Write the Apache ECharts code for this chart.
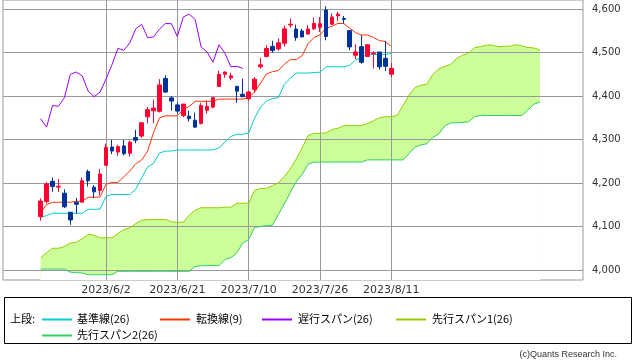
<!DOCTYPE html>
<html><head><meta charset="utf-8">
<script src="https://cdn.jsdelivr.net/npm/echarts@6/dist/echarts.min.js"></script>
<style>html,body{margin:0;padding:0;background:#fff}#c{width:638px;height:362px}</style>
</head><body><div id="c"></div>
<script>
// x positions are candle indices (0 = 2023/5/17)
const tickIndex = [11, 23, 35, 47, 59];
const tickLabels = ['2023/6/2', '2023/6/21', '2023/7/10', '2023/7/26', '2023/8/11'];
const yTicks = [4000, 4100, 4200, 4300, 4400, 4500, 4600];

const openP = [4122.85,4157.68,4204.15,4190.78,4176.80,4132.96,4155.71,4156.16,4226.71,4190.74,
4183.03,4241.01,4282.99,4271.34,4285.47,4268.69,4304.88,4308.32,4352.61,4366.29,
4365.33,4440.95,4396.11,4380.01,4355.40,4354.17,4344.84,4337.36,4367.48,4374.94,
4422.44,4450.48,4442.04,4422.62,4404.54,4394.23,4415.55,4467.69,4491.50,4514.61,
4508.86,4521.78,4563.87,4554.38,4550.16,4543.39,4555.19,4558.96,4598.26,4565.75,
4584.82,4578.83,4550.93,4494.27,4513.96,4491.58,4498.03,4501.57,4487.16,4450.69];
const closeP = [4158.77,4198.05,4191.98,4192.63,4145.58,4115.24,4151.28,4205.45,4205.52,4179.83,
4221.02,4282.37,4273.79,4283.85,4267.52,4293.93,4298.86,4338.93,4369.01,4372.59,
4425.84,4409.59,4388.71,4365.69,4381.89,4348.33,4328.82,4378.41,4376.86,4396.44,
4450.38,4455.59,4446.82,4411.59,4398.95,4409.53,4439.26,4472.16,4510.04,4505.42,
4522.79,4554.98,4565.72,4534.87,4536.34,4554.64,4567.46,4566.75,4537.41,4582.23,
4588.96,4576.73,4513.39,4501.89,4478.03,4518.44,4499.38,4467.71,4468.83,4464.05];
const lowP = [4113.62,4153.14,4180.20,4179.68,4142.54,4103.98,4129.73,4156.16,4192.18,4166.15,
4171.64,4241.01,4266.82,4263.09,4263.96,4261.07,4291.70,4304.37,4337.66,4337.85,
4362.60,4407.44,4367.19,4360.14,4351.82,4341.34,4328.08,4335.00,4360.22,4371.97,
4422.44,4442.29,4436.61,4385.05,4397.40,4389.92,4408.46,4463.23,4489.36,4499.56,
4504.90,4514.59,4557.48,4527.56,4535.79,4541.29,4552.42,4547.58,4528.56,4564.01,
4573.14,4567.53,4505.75,4485.54,4474.55,4491.15,4463.74,4461.33,4457.92,4443.98];
const highP = [4164.67,4202.20,4212.91,4209.22,4185.68,4132.96,4165.74,4212.87,4231.10,4195.44,
4232.43,4290.67,4299.28,4288.33,4299.19,4298.01,4322.62,4340.13,4375.37,4391.82,
4439.20,4448.47,4400.15,4386.22,4382.25,4366.55,4362.06,4384.42,4390.35,4398.39,
4458.48,4456.46,4454.06,4422.62,4440.39,4412.60,4443.64,4488.34,4517.38,4527.76,
4532.85,4562.30,4578.43,4564.74,4555.00,4563.41,4580.62,4582.47,4607.07,4590.16,
4594.22,4584.62,4550.93,4519.49,4540.34,4519.84,4503.31,4502.44,4527.37,4476.23];

const tenkan = [4131.8,4150.6,4155.9,4155.9,4156.0,4156.0,4158.4,4158.4,4167.5,4167.5,
4168.2,4197.3,4201.6,4201.6,4214.5,4227.7,4244.4,4253.1,4273.5,4316.4,
4350.1,4354.8,4354.8,4354.8,4370.1,4376.4,4388.3,4388.3,4388.3,4388.3,
4393.3,4393.3,4393.3,4393.3,4393.3,4396.7,4409.4,4430.2,4451.2,4456.4,
4459.0,4473.7,4484.2,4484.2,4493.4,4520.8,4535.0,4541.0,4556.0,4560.8,
4567.3,4567.3,4556.4,4546.3,4540.8,4540.8,4535.4,4527.8,4526.1,4514.3];
const kijun = [4121,4125.2,4130.6,4130.6,4130.6,4130.6,4130.6,4130.6,4139.7,4139.7,
4140.4,4169.5,4173.8,4173.8,4173.8,4173.8,4185.5,4212.4,4237.1,4245.4,
4269.1,4273.8,4273.8,4276.2,4276.2,4276.2,4276.2,4276.2,4276.2,4276.2,
4281.2,4294.1,4307.3,4312.3,4312.3,4315.1,4349.7,4374.7,4389.2,4394.4,
4397.0,4427.0,4441.4,4453.3,4453.3,4453.3,4454.4,4455.3,4467.6,4467.6,
4467.6,4467.6,4471.0,4483.6,4489.5,4496.1,4496.1,4496.1,4496.1,4498.5];
const senkouA = [4028,4040,4050,4050,4054,4062,4064,4072,4082,4080,
4074,4074,4074,4084,4093,4097,4107,4115,4116,4116,
4116,4116,4111,4110,4110,
4126.4,4137.9,4143.3,4143.3,4143.3,4143.3,4144.5,4144.5,4153.6,4153.6,
4154.3,4183.4,4187.7,4187.7,4194.2,4200.8,4215.0,4232.8,4255.3,4280.9,
4309.6,4314.3,4314.3,4315.5,4323.2,4326.3,4332.3,4332.3,4332.3,4332.3,
4337.3,4343.7,4350.3,4352.8,4352.8,4355.9,4379.6,4402.5,4420.2,4425.4,
4428.0,4450.4,4462.8,4468.8,4473.4,4487.1,4494.7,4498.2,4511.8,4514.2,
4517.5,4517.5,4513.7,4515.0,4515.2,4518.5,4515.8,4512.0,4511.1,4506.4];
const senkouB = [4002,4002,4002,4002,4002,3995,3994,3993,3989,3989,
3989,3989,3989,3997,3997,3997,3997,3997,3997,3997,
3997,3997,3997,3997,3997,3997,4008,4010,4010,4010,
4010,4024,4028,4039,4062,4070,4098,4100,4102,4103,
4128,4152,4178,4203,4220.1,4243.7,4248.4,4248.4,4248.4,4248.4,
4248.4,4248.4,4248.4,4248.4,4248.4,4253.4,4253.4,4253.4,4253.4,4253.4,
4253.4,4253.4,4268.3,4282.8,4288.0,4290.6,4305.3,4313.4,4331.6,4338.7,
4338.7,4339.8,4340.8,4353.1,4355.5,4355.5,4355.5,4355.5,4355.5,4355.5,
4355.5,4355.5,4368.4,4381.6,4386.6];
const chikouShift = 25;

const legendItems = [
  {name: '基準線(26)', color: '#00cccc'},
  {name: '転換線(9)', color: '#ff3300'},
  {name: '遅行スパン(26)', color: '#9900ff'},
  {name: '先行スパン1(26)', color: '#99cc00'},
  {name: '先行スパン2(26)', color: '#33cc66'}
];

const chart = echarts.init(document.getElementById('c'));
const candles = openP.map((o, i) => [i, o, closeP[i], lowP[i], highP[i]]);
const pts = arr => arr.map((v, i) => [i, v]);
const chikou = closeP.slice(chikouShift).map((v, i) => [i, v]);
const grey = '#999999';

// legend layout (pixel slots)
const legendPos = [
  {lx: 42, tx: 77, y: 319},
  {lx: 160, tx: 196, y: 319},
  {lx: 262, tx: 298, y: 319},
  {lx: 396, tx: 432, y: 319},
  {lx: 42, tx: 77, y: 335}
];
const font11 = '11px "Noto Sans CJK JP", "DejaVu Sans", sans-serif';
const graphics = [
  {type: 'rect', shape: {x: 4.5, y: 297.5, width: 627, height: 46}, style: {fill: '#fff', stroke: '#000', lineWidth: 1}, z: 0},
  {type: 'text', x: 10, y: 319, style: {text: '上段:', font: font11, fill: '#000', verticalAlign: 'middle'}, z: 1},
  {type: 'text', x: 617, y: 355, style: {text: '(c)Quants Research Inc.', font: '9px "Liberation Sans", sans-serif', fill: '#333', align: 'right', verticalAlign: 'middle'}, z: 1}
];
legendItems.forEach((it, k) => {
  const p = legendPos[k];
  graphics.push({type: 'rect', shape: {x: p.lx, y: p.y - 0.5, width: 30, height: 2}, style: {fill: it.color, stroke: null, opacity: 1}, z: 5});
  graphics.push({type: 'text', x: p.tx, y: p.y, style: {text: it.name, font: font11, fill: '#000', verticalAlign: 'middle'}, z: 1});
});

const lineBase = {type: 'line', symbol: 'none', showSymbol: false, silent: true, animation: false};

chart.setOption({
  animation: false,
  grid: {left: 3, top: 0, width: 580, height: 280, show: true, borderColor: grey, borderWidth: 1, backgroundColor: 'transparent'},
  xAxis: {
    type: 'value', min: -6.33, max: 91.25, z: 1,
    axisLine: {show: false},
    axisTick: {show: false, customValues: tickIndex},
    axisLabel: {customValues: tickIndex, margin: 5, fontSize: 11, color: '#333', fontFamily: 'DejaVu Sans',
      formatter: v => tickLabels[tickIndex.indexOf(Math.round(v))] || ''},
    splitLine: {show: true, lineStyle: {color: grey, width: 1}}
  },
  yAxis: {
    type: 'value', position: 'right', min: 3977, max: 4621.4, z: 1,
    axisLine: {show: false},
    axisTick: {show: true, length: 4, inside: false, customValues: yTicks, lineStyle: {color: grey}},
    axisLabel: {customValues: yTicks, margin: 9, fontSize: 10, color: '#333', fontFamily: 'DejaVu Sans',
      formatter: v => v.toLocaleString('en-US')},
    splitLine: {show: true, lineStyle: {color: grey, width: 1}}
  },
  graphic: {elements: graphics},
  series: [
    Object.assign({}, lineBase, {name: 'cloudA', data: pts(senkouA), z: 0, lineStyle: {width: 0}, areaStyle: {color: '#ccff99', opacity: 1, origin: 'start'}}),
    Object.assign({}, lineBase, {name: 'cloudB', data: pts(senkouB), z: 0.5, lineStyle: {width: 0}, areaStyle: {color: '#ffffff', opacity: 1, origin: 'start'}}),
    Object.assign({}, lineBase, {name: '先行スパン1(26)', data: pts(senkouA), z: 2, lineStyle: {color: '#99cc00', width: 1}}),
    Object.assign({}, lineBase, {name: '先行スパン2(26)', data: pts(senkouB), z: 2, lineStyle: {color: '#33cc66', width: 1}}),
    Object.assign({}, lineBase, {name: '遅行スパン(26)', data: chikou, z: 2, lineStyle: {color: '#9900ff', width: 1}}),
    Object.assign({}, lineBase, {name: '基準線(26)', data: pts(kijun), z: 2, lineStyle: {color: '#00cccc', width: 1}}),
    Object.assign({}, lineBase, {name: '転換線(9)', data: pts(tenkan), z: 2, lineStyle: {color: '#ff3300', width: 1}}),
    {
      type: 'candlestick', name: 'price', z: 3, silent: true, animation: false,
      dimensions: ['i', 'open', 'close', 'low', 'high'],
      encode: {x: 'i', y: ['open', 'close', 'low', 'high']},
      data: candles, barWidth: 4,
      itemStyle: {color: '#ff0033', color0: '#003399', borderColor: '#ff0033', borderColor0: '#003399', borderWidth: 1}
    }
  ]
});
</script></body></html>
